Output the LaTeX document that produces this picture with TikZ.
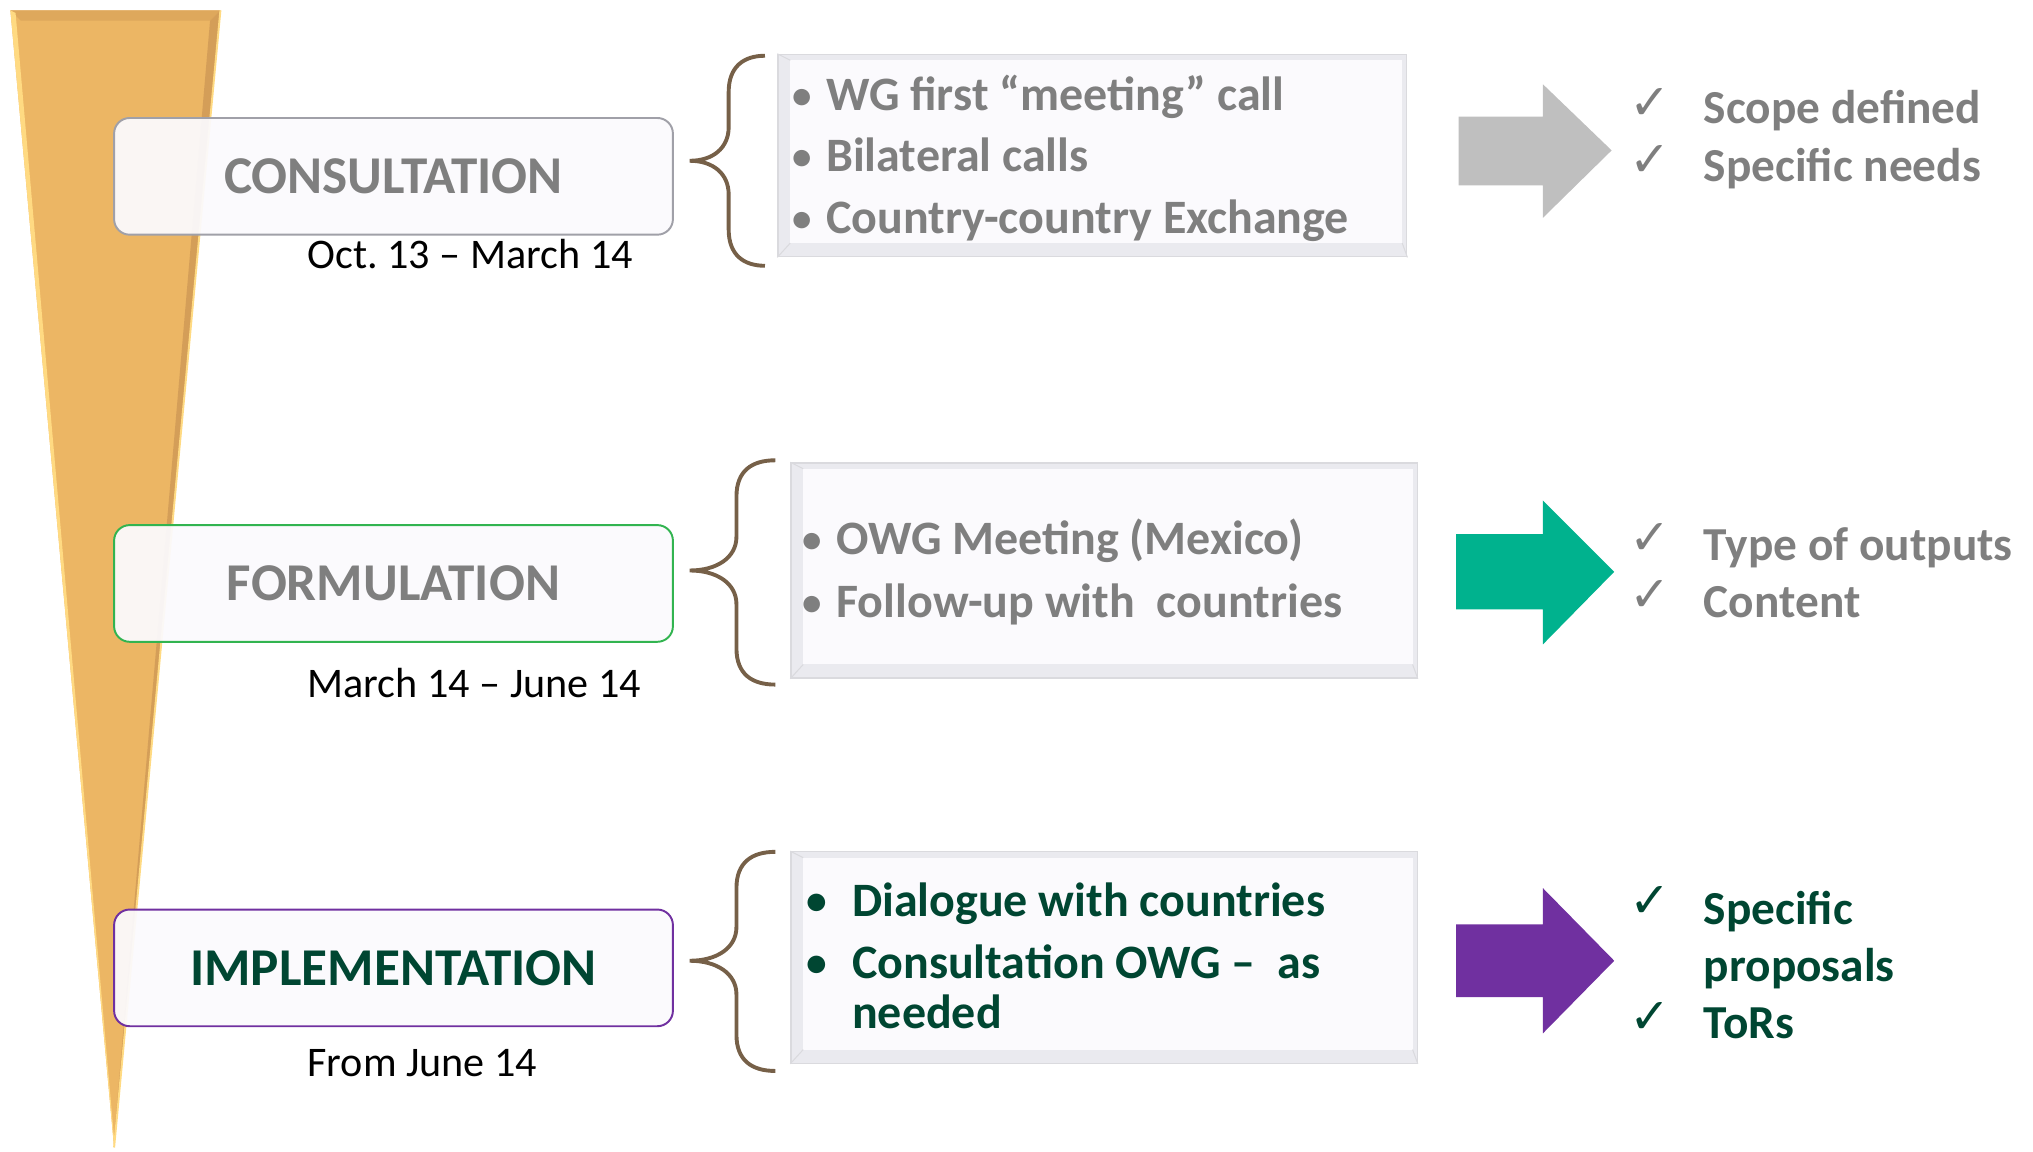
\documentclass[tikz,border=0pt]{standalone}
\usepackage{fontspec}
\setmainfont{Carlito}
\newfontfamily\symfont{DejaVu Sans}
\usetikzlibrary{calc}
\frenchspacing

\definecolor{funnelorange}{RGB}{236,182,100}
\definecolor{funnellight}{RGB}{255,218,130}
\definecolor{funneldark}{RGB}{212,158,88}
\definecolor{funneltop}{RGB}{222,168,92}
\definecolor{boxwhite}{RGB}{251,250,253}
\definecolor{bevelgray}{RGB}{234,234,239}
\definecolor{edgegray}{RGB}{218,218,222}
\definecolor{consgray}{RGB}{160,160,168}
\definecolor{formgreen}{RGB}{50,180,80}
\definecolor{implpurple}{RGB}{112,48,160}
\definecolor{textgray}{RGB}{127,127,127}
\definecolor{darkgreen}{RGB}{0,70,50}
\definecolor{bracebrown}{RGB}{118,96,72}
\definecolor{arrgray}{RGB}{191,191,191}
\definecolor{arrteal}{RGB}{0,178,142}

\newcommand{\bul}[2]{\makebox[#1][l]{\raisebox{1.5pt}{\fontsize{#2}{#2}\selectfont\textbullet}}}

\tikzset{
  phase/.style={line width=1.5pt, rounded corners=12pt, fill=boxwhite,
    fill opacity=0.94, text opacity=1, minimum width=431pt, minimum height=90pt,
    text=textgray, font=\fontsize{41}{48}\selectfont\bfseries},
  date/.style={anchor=base west, inner sep=0pt, font=\fontsize{32.5}{38}\selectfont},
  itembox/.style={draw=edgegray, line width=1pt, fill=bevelgray},
  itemtext/.style={anchor=base west, inner sep=0pt, text=textgray,
    font=\fontsize{37}{44}\selectfont\bfseries},
  outcome/.style={anchor=base west, inner sep=0pt, text=textgray,
    font=\fontsize{36.5}{44}\selectfont\bfseries},
  tick/.style={inner sep=0pt, text=textgray, font=\fontsize{38}{40}\symfont},
  phasebrace/.style={draw=bracebrown, line width=3pt}
}

\begin{document}
\begin{tikzpicture}[x=1pt,y=-1pt]
\useasboundingbox (0,0) rectangle (1568,888);

% funnel
\fill[funnelorange] (8,8) -- (170,8) -- (88,885) -- cycle;
\fill[funneltop] (8,8) -- (170,8) -- (162,16) -- (16,16) -- cycle;
\fill[funneldark] (170,8) -- (162,16) -- (89,866) -- (88,885) -- cycle;
\fill[funnellight] (8,8) -- (12,10) -- (88,878) -- (88,885) -- cycle;
\draw[funnellight, line width=1.5pt] (170,8) -- (88,885);

% phases
\node[phase, draw=consgray] (cons) at (303.5,136) {CONSULTATION};
\node[phase, draw=formgreen] (form) at (303.5,450) {FORMULATION};
\node[phase, draw=implpurple, text=darkgreen] (impl) at (303.5,746.5) {IMPLEMENTATION};

\node[date] (consdate) at (237,207) {Oct. 13 – March 14};
\node[date] (formdate) at (237,538) {March 14 – June 14};
\node[date] (impldate) at (237,830) {From June 14};

% braces
\draw[phasebrace] (590,43) .. controls (574,43) and (562,51) .. (562,71) -- (562,98)
  .. controls (562,114) and (550,124) .. (532,124) .. controls (550,124) and (562,134) .. (562,150)
  -- (562,177) .. controls (562,197) and (574,205) .. (590,205);
\draw[phasebrace] (598,355) .. controls (580,355) and (568,363) .. (568,383) -- (568,414)
  .. controls (568,430) and (553,440) .. (532,440) .. controls (553,440) and (568,450) .. (568,466)
  -- (568,500) .. controls (568,520) and (580,528) .. (598,528);
\draw[phasebrace] (598,657) .. controls (580,657) and (568,665) .. (568,685) -- (568,715)
  .. controls (568,731) and (553,741) .. (532,741) .. controls (553,741) and (568,751) .. (568,767)
  -- (568,798) .. controls (568,818) and (580,826) .. (598,826);

% activity boxes
\node[itembox, minimum width=485pt, minimum height=156pt] (box1) at (842.5,120) {};
\node[itembox, minimum width=483pt, minimum height=166pt] (box2) at (851.5,440) {};
\node[itembox, minimum width=483pt, minimum height=163pt] (box3) at (851.5,738.5) {};
\foreach \b in {box1,box2,box3}{
  \fill[boxwhite] ($(\b.north west)+(10,5)$) rectangle ($(\b.south east)+(-4,-11)$);
  \draw[edgegray, line width=0.8pt] (\b.north west) -- ++(10,5);
  \draw[edgegray, line width=0.8pt] (\b.south west) -- ++(10,-11);
  \draw[edgegray, line width=0.8pt] (\b.south east) -- ++(-4,-11);
}

\node[itemtext] (a11) at (611,85) {\bul{26pt}{30}WG first “meeting” call};
\node[itemtext] (a12) at (611,132) {\bul{26pt}{30}Bilateral calls};
\node[itemtext] (a13) at (611,180) {\bul{26pt}{30}Country-country Exchange};

\node[itemtext] (a21) at (619,428) {\bul{26pt}{30}OWG Meeting (Mexico)};
\node[itemtext] (a22) at (619,476) {\bul{26pt}{30}Follow-up with~ countries};

\node[itemtext, text=darkgreen] (a31) at (622,707) {\bul{35pt}{32}Dialogue with countries};
\node[itemtext, text=darkgreen] (a32) at (622,755) {\bul{35pt}{32}Consultation OWG –~ as};
\node[itemtext, text=darkgreen] (a33) at (657,793) {needed};

% arrows
\fill[arrgray] (1125,90) -- (1190,90) -- (1190,65) -- (1243,116) -- (1190,168) -- (1190,143) -- (1125,143) -- cycle;
\fill[arrteal] (1123,412) -- (1190,412) -- (1190,386) -- (1245,441) -- (1190,497) -- (1190,470) -- (1123,470) -- cycle;
\fill[implpurple] (1123,713) -- (1190,713) -- (1190,685) -- (1245,741) -- (1190,797) -- (1190,769) -- (1123,769) -- cycle;

% outcomes
\node[tick] (t11) at (1273,80) {✓};
\node[tick] (t12) at (1273,124) {✓};
\node[outcome] (o11) at (1314,95) {Scope defined};
\node[outcome] (o12) at (1314,140) {Specific needs};

\node[tick] (t21) at (1273,416) {✓};
\node[tick] (t22) at (1273,460) {✓};
\node[outcome] (o21) at (1314,432) {Type of outputs};
\node[outcome] (o22) at (1314,476) {Content};

\node[tick, text=darkgreen] (t31) at (1273,696) {✓};
\node[tick, text=darkgreen] (t32) at (1273,785) {✓};
\node[outcome, text=darkgreen] (o31) at (1314,713) {Specific};
\node[outcome, text=darkgreen] (o32) at (1314,757) {proposals};
\node[outcome, text=darkgreen] (o33) at (1314,801) {ToRs};
\end{tikzpicture}
\end{document}
